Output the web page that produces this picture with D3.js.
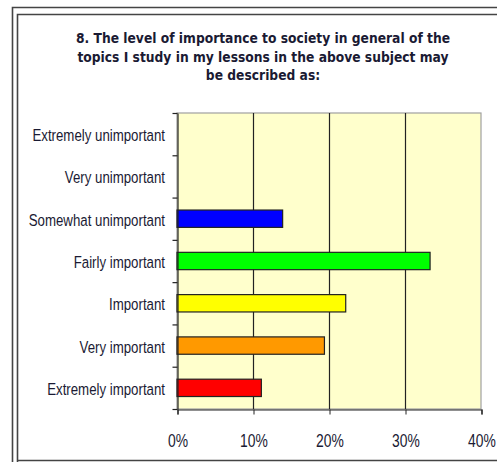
<!DOCTYPE html>
<html>
<head>
<meta charset="utf-8">
<script src="https://cdn.jsdelivr.net/npm/d3@7"></script>
<style>
  html, body { margin: 0; padding: 0; background: #fff; }
  svg { display: block; }
</style>
</head>
<body>
<div id="chart"></div>
<script>
// Response categories, top to bottom
const categories = [
  "Extremely unimportant",
  "Very unimportant",
  "Somewhat unimportant",
  "Fairly important",
  "Important",
  "Very important",
  "Extremely important"
];
// Share of responses (%)
const values = [0, 0, 13.9, 33.3, 22.2, 19.4, 11.1];
const barColors = ["#ff00ff", "#00ffff", "#0000ff", "#00ff00", "#ffff00", "#ff9900", "#ff0000"];
const xTicks = [0, 10, 20, 30, 40];
const titleLines = [
  "8. The level of importance to society in general of the",
  "topics I study in my lessons in the above subject may",
  "be described as:"
];

const W = 497, H = 462;
const plot = { left: 177, top: 113, right: 481, bottom: 409 };
const textColor = "#1a1a33";
const condensed = 0.75; // horizontal squeeze of the axis lettering

const svg = d3.select("#chart").append("svg")
  .attr("width", W).attr("height", H);

// double frame
const frame = svg.append("g").attr("fill", "none").attr("stroke", "#444").attr("stroke-width", 1.6);
frame.append("path").attr("d", `M12.5,${H + 2} V7.5 H${W + 2}`);
frame.append("path").attr("d", `M17.5,${H + 2} V14.5 H${W + 2}`);
frame.append("line").attr("x1", 17).attr("x2", W + 2).attr("y1", 460.5).attr("y2", 460.5);

// title
svg.append("g").selectAll("text")
  .data(titleLines)
  .join("text")
  .attr("transform", (d, i) => `translate(263,${43 + i * 18.5}) scale(0.88,1)`)
  .attr("text-anchor", "middle")
  .attr("font-family", "'DejaVu Sans', sans-serif")
  .attr("font-weight", "bold")
  .attr("font-size", 14)
  .attr("fill", textColor)
  .text(d => d);

const x = d3.scaleLinear().domain([0, 40]).range([plot.left, plot.right]);
const y = d3.scaleBand().domain(categories).range([plot.top, plot.bottom]).paddingInner(0.59).paddingOuter(0.295);
const yb = d3.scaleBand().domain(categories).range([plot.top, plot.bottom]);

// plot background
svg.append("rect")
  .attr("x", plot.left).attr("y", plot.top)
  .attr("width", plot.right - plot.left).attr("height", plot.bottom - plot.top)
  .attr("fill", "#ffffcc")
  .attr("stroke", "#a0a0a0").attr("stroke-width", 1.2);

// vertical gridlines
svg.append("g").selectAll("line")
  .data(xTicks.filter(d => d > 0 && d < 40))
  .join("line")
  .attr("x1", d => x(d) + 0.5).attr("x2", d => x(d) + 0.5)
  .attr("y1", plot.top).attr("y2", plot.bottom)
  .attr("stroke", "#222").attr("stroke-width", 1.2);

// bars
svg.append("g").selectAll("rect")
  .data(categories)
  .join("rect")
  .attr("x", x(0))
  .attr("y", (d) => y(d))
  .attr("width", (d, i) => x(values[i]) - x(0))
  .attr("height", y.bandwidth())
  .attr("fill", (d, i) => barColors[i])
  .attr("stroke", "#222").attr("stroke-width", 1.2)
  .attr("display", (d, i) => values[i] > 0 ? null : "none");

// x axis
const xAxis = svg.append("g")
  .attr("transform", `translate(0.5,${plot.bottom + 0.5})`)
  .call(d3.axisBottom(x).tickValues(xTicks).tickFormat(d => d + "%").tickSize(5));
xAxis.select(".domain").attr("stroke", "#222").attr("stroke-width", 1.2);
xAxis.selectAll(".tick line").attr("stroke", "#222");
xAxis.selectAll(".tick text")
  .attr("y", null).attr("dy", null)
  .attr("transform", `translate(0,37) scale(${condensed},1)`)
  .attr("font-family", "'Liberation Sans', Arial, sans-serif")
  .attr("font-size", 18.5)
  .attr("fill", textColor);

// y axis
const yAxis = svg.append("g")
  .attr("transform", `translate(${plot.left + 0.5},0)`)
  .call(d3.axisLeft(yb).tickSize(0));
yAxis.select(".domain").attr("stroke", "#222").attr("stroke-width", 1.2);
yAxis.selectAll(".tick text")
  .attr("x", null).attr("dy", null)
  .attr("transform", `translate(-12.5,7) scale(0.78,1)`)
  .attr("font-family", "'Liberation Sans', Arial, sans-serif")
  .attr("font-size", 17)
  .attr("fill", textColor);
// category boundary ticks
yAxis.append("g").selectAll("line")
  .data(categories.map(c => yb(c)).concat([plot.bottom]))
  .join("line")
  .attr("x1", -5).attr("x2", 0)
  .attr("y1", d => d + 0.5).attr("y2", d => d + 0.5)
  .attr("stroke", "#222").attr("stroke-width", 1.2);
</script>
</body>
</html>
